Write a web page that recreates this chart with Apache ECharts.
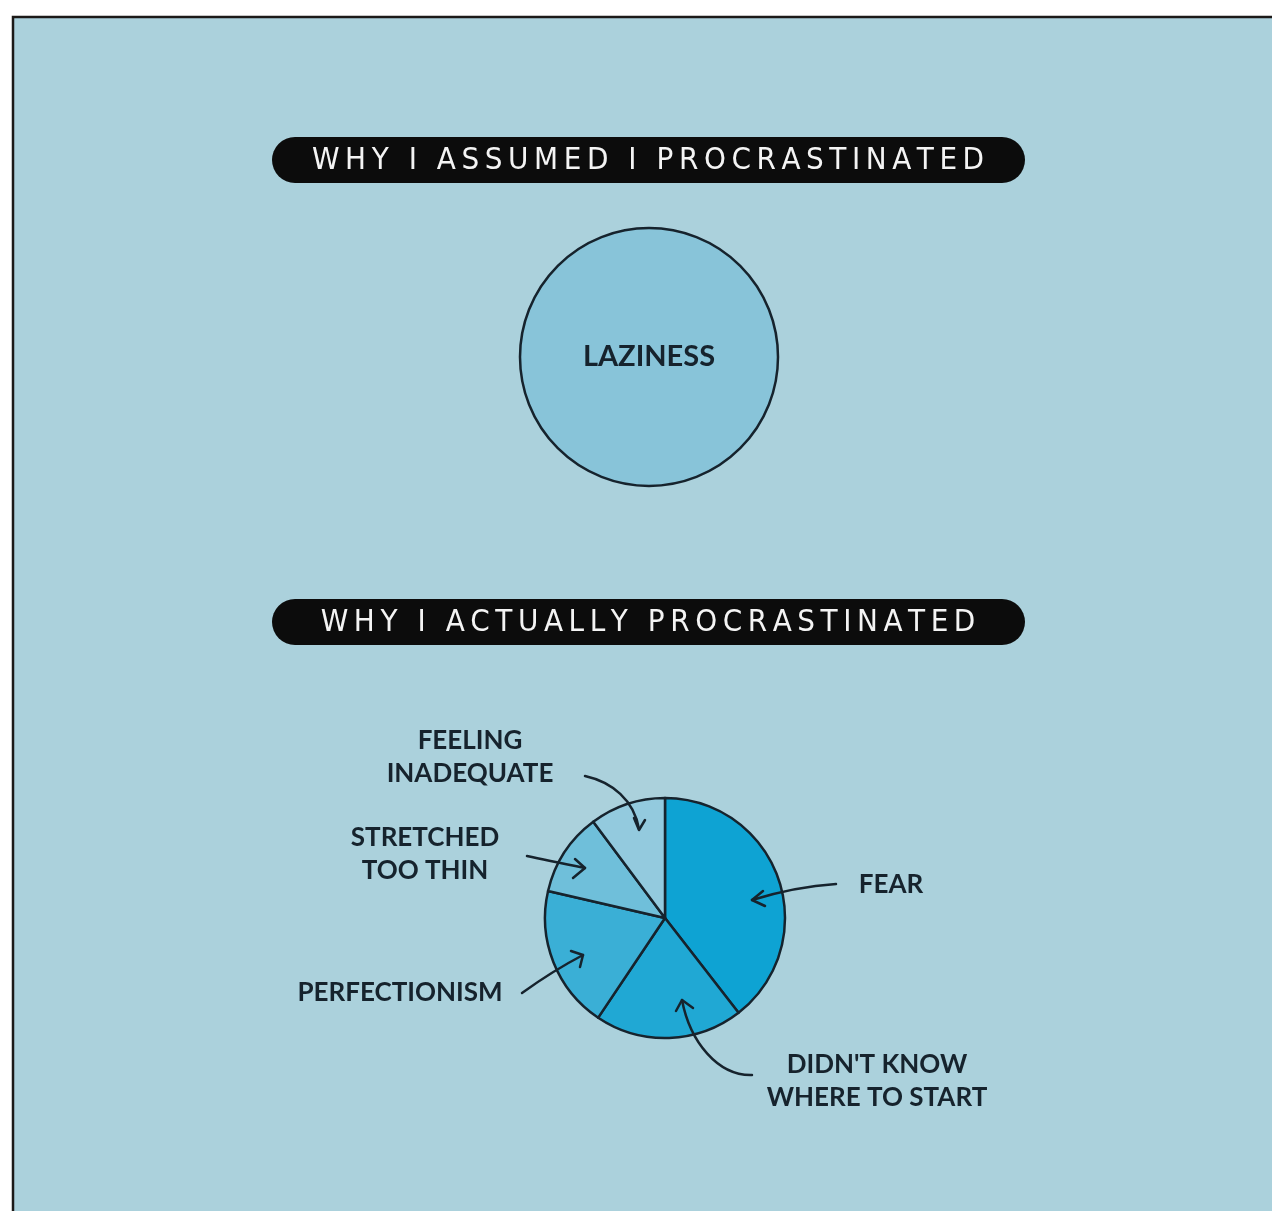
<!DOCTYPE html>
<html>
<head>
<meta charset="utf-8">
<script src="https://cdn.jsdelivr.net/npm/echarts@6/dist/echarts.min.js"></script>
<style>
  html, body { margin: 0; padding: 0; background: #ffffff; }
  #chart { width: 1272px; height: 1211px; }
</style>
</head>
<body>
<div id="chart"></div>
<script>
// ---- data ----
const titleTexts = ['WHY I ASSUMED I PROCRASTINATED', 'WHY I ACTUALLY PROCRASTINATED'];
const assumedCategories = ['LAZINESS'];
const assumedValues = [100];
const actualCategories = ['FEAR', "DIDN'T KNOW\nWHERE TO START", 'PERFECTIONISM', 'STRETCHED\nTOO THIN', 'FEELING\nINADEQUATE'];
const actualValues = [39.5, 19.9, 19.2, 11.2, 10.2];

// ---- styles / layout (kept separate from data) ----
const BG = '#abd1dc';
const INK = '#16232d';
const assumedColors = ['#88c4d9'];
const actualColors = ['#0ea3d3', '#20a8d4', '#3aafd6', '#6fbfda', '#93cade'];
// label anchor points for the annotation labels (pixel layout)
const labelSpots = [[891, 885], [877, 1081], [400, 993], [425, 854], [470, 757]];

const spaced = s => s.split('').join('\u2009');

const chart = echarts.init(document.getElementById('chart'), null, { renderer: 'canvas' });

function arrowHead(tip, a1, a2) {
  return { type: 'polyline', silent: true, z: 10,
    shape: { points: [a1, tip, a2] },
    style: { stroke: INK, lineWidth: 2.5, fill: null, lineJoin: 'round', lineCap: 'round' } };
}
function curve(p1, c1, c2, p2) {
  return { type: 'bezierCurve', silent: true, z: 10,
    shape: { x1: p1[0], y1: p1[1], cpx1: c1[0], cpy1: c1[1], cpx2: c2[0], cpy2: c2[1], x2: p2[0], y2: p2[1] },
    style: { stroke: INK, lineWidth: 2.5, fill: null, lineCap: 'round' } };
}
function banner(cy, text) {
  return { type: 'group', z: 5, children: [
    { type: 'rect', shape: { x: 272, y: cy - 23, width: 753, height: 46, r: 23 }, style: { fill: '#0c0c0c' } },
    { type: 'text', style: { x: 648, y: cy + 1, text: spaced(text), fill: '#f4f4f4',
      font: 'normal 31px "DejaVu Sans Condensed", "DejaVu Sans", sans-serif', align: 'center', verticalAlign: 'middle' } }
  ]};
}

const option = {
  backgroundColor: '#ffffff',
  animation: false,
  graphic: [
    { type: 'rect', z: -10, silent: true, shape: { x: 13, y: 17, width: 1300, height: 1250 },
      style: { fill: BG, stroke: '#1c1a18', lineWidth: 2.5 } },
    banner(160, titleTexts[0]),
    banner(622, titleTexts[1]),
    // FEELING INADEQUATE arrow
    curve([585, 776], [612, 782], [634, 800], [639, 829]),
    arrowHead([639, 830], [634, 818], [645, 820]),
    // STRETCHED TOO THIN arrow
    curve([527, 856], [545, 860], [565, 864], [585, 868]),
    arrowHead([585, 868], [575, 859], [573, 878]),
    // PERFECTIONISM arrow
    curve([522, 993], [540, 980], [562, 966], [583, 955]),
    arrowHead([583, 955], [571, 951], [580, 967]),
    // FEAR arrow
    curve([836, 884], [805, 886], [778, 892], [752, 900]),
    arrowHead([752, 900], [763, 891], [765, 906]),
    // DIDN'T KNOW arrow
    curve([752, 1075], [718, 1076], [690, 1042], [682, 1000]),
    arrowHead([682, 1000], [676, 1011], [693, 1008])
  ],
  series: [
    {
      type: 'pie',
      center: [649, 357],
      radius: [0, 129],
      silent: true,
      startAngle: 90,
      data: assumedCategories.map((n, i) => ({ name: n, value: assumedValues[i] })),
      itemStyle: { color: p => assumedColors[p.dataIndex], borderColor: INK, borderWidth: 2.5 },
      label: { show: true, position: 'center', formatter: '{b}', color: INK,
        fontFamily: 'Lato, "Open Sans", sans-serif', fontWeight: 'bold', fontSize: 29 },
      labelLine: { show: false },
      emphasis: { disabled: true }
    },
    {
      type: 'pie',
      center: [665, 918],
      radius: [0, 120],
      silent: true,
      startAngle: 90,
      clockwise: true,
      avoidLabelOverlap: false,
      data: actualCategories.map((n, i) => ({ name: n, value: actualValues[i] })),
      itemStyle: { color: p => actualColors[p.dataIndex], borderColor: INK, borderWidth: 2.5 },
      label: { show: true, position: 'outside', formatter: '{b}', color: INK, lineHeight: 33,
        fontFamily: 'Lato, "Open Sans", sans-serif', fontWeight: 'bold', fontSize: 26, align: 'center' },
      labelLine: { show: false },
      labelLayout: p => ({ x: labelSpots[p.dataIndex][0], y: labelSpots[p.dataIndex][1], align: 'center', verticalAlign: 'middle', hideOverlap: false }),
      emphasis: { disabled: true }
    }
  ]
};
chart.setOption(option);
</script>
</body>
</html>
